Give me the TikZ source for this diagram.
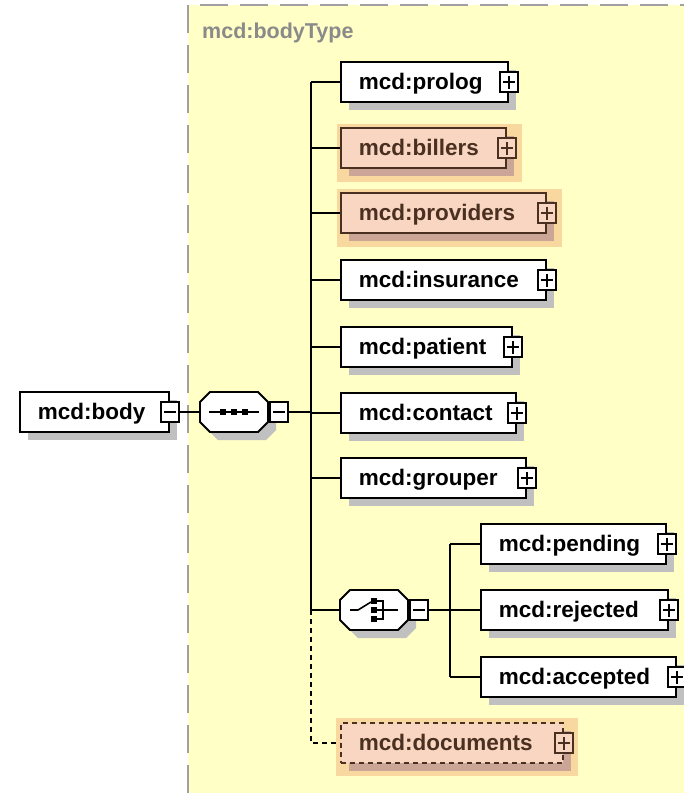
\documentclass[tikz,border=0pt]{standalone}
\usepackage{fontspec}
\setmainfont{Liberation Sans}
\usetikzlibrary{shadows,calc}
\definecolor{bgy}{HTML}{FFFFC6}
\definecolor{bordergray}{HTML}{A0A0A0}
\definecolor{shgray}{HTML}{C0C0C0}
\definecolor{halo}{HTML}{F9D8A0}
\definecolor{peach}{HTML}{F8D6C2}
\definecolor{brown}{HTML}{4A3020}
\definecolor{brshadow}{HTML}{CBA596}
\definecolor{labelgray}{HTML}{8A8A8A}
\pgfdeclarelayer{back}
\pgfdeclarelayer{bg}
\pgfsetlayers{back,bg,main}
\tikzset{
  elem/.style={draw=black, fill=white, line width=1.8pt, minimum height=40pt,
    inner xsep=0pt, inner ysep=0pt, anchor=west, align=left,
    text height=16pt, text depth=2pt,
    font=\fontsize{22.5}{26}\selectfont\bfseries,
    drop shadow={shadow xshift=8pt, shadow yshift=-8pt, fill=shgray, opacity=1}},
  optelem/.style={elem, draw=brown, fill=peach, text=brown,
    drop shadow={shadow xshift=8pt, shadow yshift=-8pt, fill=brshadow, opacity=1}},
  smallbox/.style={draw=black, fill=white, line width=1.4pt, minimum width=18pt,
    minimum height=20pt, inner sep=0pt},
  plusbox/.style={smallbox, path picture={
    \draw[line width=1.5pt] ([xshift=-6pt]path picture bounding box.center) -- ([xshift=6pt]path picture bounding box.center);
    \draw[line width=1.5pt] ([yshift=-6.5pt]path picture bounding box.center) -- ([yshift=6.5pt]path picture bounding box.center);}},
  optplus/.style={plusbox, draw=brown, fill=peach},
  minusbox/.style={smallbox, path picture={
    \draw[line width=1.5pt] ([xshift=-6pt]path picture bounding box.center) -- ([xshift=6pt]path picture bounding box.center);}},
  compositor/.style={rectangle, minimum width=68pt, minimum height=40pt, inner sep=0pt},
  octo/.style={draw=black, fill=white, line width=1.8pt},
  octoshadow/.style={fill=shgray},
  conn/.style={line width=1.6pt, draw=black},
  optconn/.style={conn, dash pattern=on 5pt off 4pt},
  sq/.style={fill=black},
}
\newcommand{\octpath}{(-34,-10) -- (-24,-20) -- (24,-20) -- (34,-10) -- (34,10) -- (24,20) -- (-24,20) -- (-34,10) -- cycle}
\begin{document}
\begin{tikzpicture}[x=1pt,y=-1pt]
\useasboundingbox (0,0) rectangle (684,793);
% type background
\begin{pgfonlayer}{back}
\fill[bgy] (188,5) rectangle (684,793);
\draw[bordergray, line width=2pt, dash pattern=on 28pt off 12pt] (188,793) -- (188,5) -- (684,5);
\end{pgfonlayer}
\node[anchor=west, text=labelgray, font=\fontsize{21.5}{25}\selectfont\bfseries, inner sep=0pt] (typelabel) at (202,33) {mcd:bodyType};

% root element
\node[elem, text width=149pt] (body) at (19,412) {\hspace*{18pt}mcd:body};
\node[minusbox] (bodym) at (body.east) {};

% sequence compositor
\node[compositor] (seq) at (234,412) {};
\fill[octoshadow, shift={(seq.center)}, xshift=8pt, yshift=-8pt] \octpath;
\draw[octo, shift={(seq.center)}] \octpath;
\node[minusbox, anchor=west] (seqm) at ([xshift=1pt]seq.east) {};
\draw[line width=1.6pt] ($(seq.center)+(-25,0)$) -- ($(seq.center)+(25,0)$);
\fill[sq] ($(seq.center)+(-14,-3)$) rectangle ++(6,6);
\fill[sq] ($(seq.center)+(-3,-3)$) rectangle ++(6,6);
\fill[sq] ($(seq.center)+(8,-3)$) rectangle ++(6,6);

% children of the sequence
\node[elem, text width=167pt] (prolog) at (340,82) {\hspace*{18pt}mcd:prolog};
\node[plusbox] (prologp) at (prolog.east) {};
\node[optelem, text width=165pt] (billers) at (340,148) {\hspace*{18pt}mcd:billers};
\node[optplus] (billersp) at (billers.east) {};
\node[optelem, text width=205pt] (providers) at (340,213) {\hspace*{18pt}mcd:providers};
\node[optplus] (providersp) at (providers.east) {};
\node[elem, text width=205pt] (insurance) at (340,280) {\hspace*{18pt}mcd:insurance};
\node[plusbox] (insurancep) at (insurance.east) {};
\node[elem, text width=171pt] (patient) at (340,347) {\hspace*{18pt}mcd:patient};
\node[plusbox] (patientp) at (patient.east) {};
\node[elem, text width=175pt] (contact) at (340,413) {\hspace*{18pt}mcd:contact};
\node[plusbox] (contactp) at (contact.east) {};
\node[elem, text width=185pt] (grouper) at (340,478) {\hspace*{18pt}mcd:grouper};
\node[plusbox] (grouperp) at (grouper.east) {};

% choice compositor
\node[compositor] (choice) at (374,610) {};
\fill[octoshadow, shift={(choice.center)}, xshift=8pt, yshift=-8pt] \octpath;
\draw[octo, shift={(choice.center)}] \octpath;
\node[minusbox, anchor=west] (choicem) at ([xshift=1pt]choice.east) {};
\draw[line width=1.6pt] ($(choice.center)+(-24,0)$) -- ($(choice.center)+(-16,0)$) -- ($(choice.center)+(-3,-8)$);
\fill[sq] ($(choice.center)+(-3,-12)$) rectangle ++(6,6);
\fill[sq] ($(choice.center)+(-3,-3)$) rectangle ++(6,6);
\fill[sq] ($(choice.center)+(-3,6)$) rectangle ++(6,6);
\draw[line width=1.6pt] ($(choice.center)+(3,-9)$) -- ($(choice.center)+(9,-9)$) -- ($(choice.center)+(9,9)$) -- ($(choice.center)+(3,9)$);
\draw[line width=1.6pt] ($(choice.center)+(3,0)$) -- ($(choice.center)+(24,0)$);

\node[elem, text width=185pt] (pending) at (480,544) {\hspace*{18pt}mcd:pending};
\node[plusbox] (pendingp) at (pending.east) {};
\node[elem, text width=187pt] (rejected) at (480,610) {\hspace*{18pt}mcd:rejected};
\node[plusbox] (rejectedp) at (rejected.east) {};
\node[elem, text width=195pt] (accepted) at (480,677) {\hspace*{18pt}mcd:accepted};
\node[plusbox] (acceptedp) at (accepted.east) {};

% optional documents
\node[optelem, text width=222pt, dash pattern=on 5pt off 4pt] (documents) at (340,743) {\hspace*{18pt}mcd:documents};
\node[optplus] (documentsp) at (documents.east) {};

% orange halos behind optional elements
\begin{pgfonlayer}{bg}
\fill[halo] ($(billers.north west)+(-3.5,-3.5)$) rectangle ($(billers.south east)+(15,13)$);
\fill[halo] ($(providers.north west)+(-3.5,-3.5)$) rectangle ($(providers.south east)+(15,13)$);
\fill[halo] ($(documents.north west)+(-4,-4.5)$) rectangle ($(documents.south east)+(14,12)$);
\end{pgfonlayer}

% connectors
\coordinate (trunk) at (311,0);
\coordinate (ctrunk) at (450,0);
\draw[conn] (bodym.east) -- (seq.west);
\draw[conn] (seqm.east) -- (seqm.east -| trunk);
\draw[conn] (prolog.west -| trunk) -- (choice.west -| trunk);
\draw[optconn] (choice.west -| trunk) -- (documents.west -| trunk) -- (documents.west);
\foreach \n in {prolog,billers,providers,insurance,patient,contact,grouper,choice}
  \draw[conn] (\n.west -| trunk) -- (\n.west);
\draw[conn] (choicem.east) -- (choicem.east -| ctrunk);
\draw[conn] (pending.west -| ctrunk) -- (accepted.west -| ctrunk);
\foreach \n in {pending,rejected,accepted}
  \draw[conn] (\n.west -| ctrunk) -- (\n.west);
\end{tikzpicture}
\end{document}
